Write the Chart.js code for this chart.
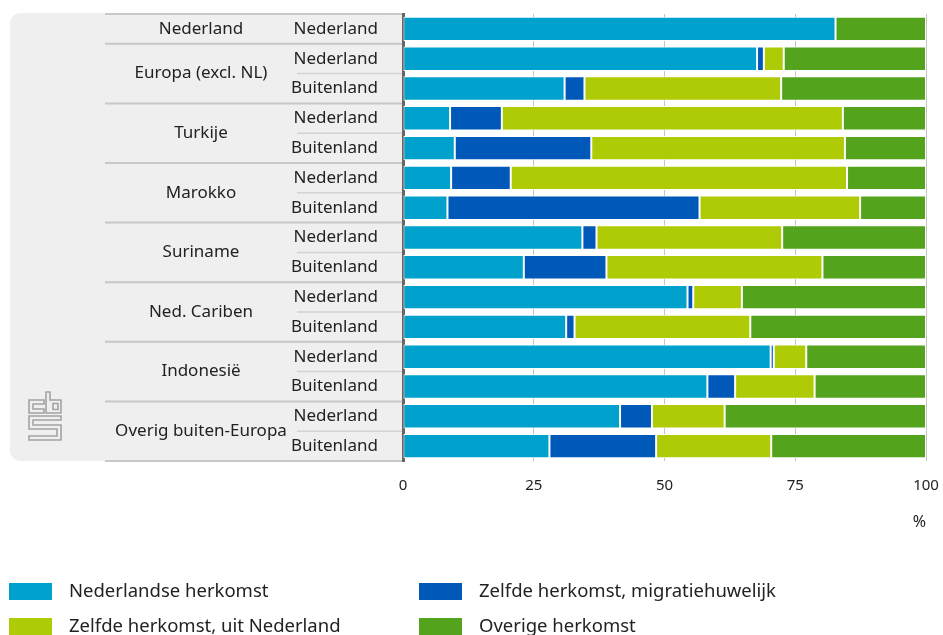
<!DOCTYPE html>
<html>
<head>
<meta charset="utf-8">
<script src="https://cdn.jsdelivr.net/npm/chart.js@4/dist/chart.umd.min.js"></script>
<style>
html,body{margin:0;padding:0;background:#fff;}
#wrap{position:relative;width:943px;height:635px;}
</style>
</head>
<body>
<div id="wrap"><canvas id="c"></canvas></div>
<script>
// ---- data ----
const categories = ['Nederland','Nederland','Buitenland','Nederland','Buitenland','Nederland','Buitenland','Nederland','Buitenland','Nederland','Buitenland','Nederland','Buitenland','Nederland','Buitenland'];
const groupNames = ['Nederland','Europa (excl. NL)','Turkije','Marokko','Suriname','Ned. Cariben','Indonesië','Overig buiten-Europa'];
const groupSizes = [1,2,2,2,2,2,2,2];
const seriesNames = ['Nederlandse herkomst','Zelfde herkomst, migratiehuwelijk','Zelfde herkomst, uit Nederland','Overige herkomst'];
const nederlandseHerkomst = [82.7,67.7,30.9,9.0,9.9,9.2,8.5,34.3,23.1,54.4,31.2,70.3,58.2,41.5,28.0];
const migratiehuwelijk   = [0,1.3,3.8,9.9,26.1,11.4,48.2,2.7,15.8,1.1,1.6,0.6,5.3,6.1,20.4];
const uitNederland       = [0,3.8,37.6,65.2,48.5,64.3,30.7,35.5,41.3,9.3,33.6,6.2,15.2,13.9,22.0];
const overigeHerkomst    = [17.3,27.2,27.7,15.9,15.5,15.1,12.6,27.5,19.8,35.2,33.6,22.9,21.3,38.5,29.6];
const xTicks = [0,25,50,75,100];
const xUnit = '%';

const colors = ['#00a1cd','#0058b8','#afcb05','#53a31d'];
const FONT = '"Noto Sans", "DejaVu Sans", sans-serif';
const TXT = '#222222';

const seriesValues = [nederlandseHerkomst, migratiehuwelijk, uitNederland, overigeHerkomst];

function zeroPad(scale) {
  scale.paddingLeft = 0; scale.paddingRight = 0; scale.paddingTop = 0; scale.paddingBottom = 0;
}

const panelPlugin = {
  id: 'panel',
  beforeDraw(chart) {
    const ctx = chart.ctx, ca = chart.chartArea, y = chart.scales.y;
    ctx.save();
    const x0 = 10, y0 = ca.top - 1, x1 = ca.left - 1, y1 = ca.bottom, r = 10;
    ctx.fillStyle = '#efefef';
    ctx.beginPath();
    ctx.moveTo(x1, y0);
    ctx.lineTo(x0 + r, y0);
    ctx.arcTo(x0, y0, x0, y0 + r, r);
    ctx.lineTo(x0, y1 - r);
    ctx.arcTo(x0, y1, x0 + r, y1, r);
    ctx.lineTo(x1, y1);
    ctx.closePath();
    ctx.fill();
    let idx = 0;
    const bound = i => {
      if (i <= 0) return ca.top;
      if (i >= categories.length) return ca.bottom;
      return (y.getPixelForValue(i - 1) + y.getPixelForValue(i)) / 2;
    };
    ctx.strokeStyle = '#c8c8c8';
    ctx.lineWidth = 2;
    ctx.beginPath();
    ctx.moveTo(105, bound(0)); ctx.lineTo(ca.left - 1, bound(0));
    groupSizes.forEach(s => {
      idx += s;
      const b = bound(idx);
      ctx.moveTo(105, b); ctx.lineTo(ca.left - 1, b);
    });
    ctx.stroke();
    ctx.strokeStyle = '#d2d2d2';
    ctx.lineWidth = 1.5;
    ctx.beginPath();
    idx = 0;
    groupSizes.forEach(s => {
      for (let k = 1; k < s; k++) {
        const b = bound(idx + k);
        ctx.moveTo(297, b); ctx.lineTo(ca.left - 1, b);
      }
      idx += s;
    });
    ctx.stroke();
    // cbs logo
    ctx.strokeStyle = '#a3a3a3';
    ctx.lineWidth = 1.6;
    ctx.beginPath();
    ctx.moveTo(44, 400); ctx.lineTo(29, 400); ctx.lineTo(29, 413); ctx.lineTo(44, 413); ctx.lineTo(44, 409);
    ctx.lineTo(33, 409); ctx.lineTo(33, 404); ctx.lineTo(44, 404); ctx.closePath();
    ctx.moveTo(46, 392); ctx.lineTo(50, 392); ctx.lineTo(50, 400); ctx.lineTo(61, 400); ctx.lineTo(61, 413); ctx.lineTo(46, 413); ctx.closePath();
    ctx.rect(53, 403.5, 5, 6);
    ctx.moveTo(29, 416); ctx.lineTo(61, 416); ctx.lineTo(61, 420); ctx.lineTo(33, 420); ctx.lineTo(33, 425); ctx.lineTo(61, 425);
    ctx.lineTo(61, 440); ctx.lineTo(29, 440); ctx.lineTo(29, 436); ctx.lineTo(57, 436); ctx.lineTo(57, 429); ctx.lineTo(29, 429); ctx.closePath();
    ctx.stroke();
    ctx.restore();
  },
  afterDraw(chart) {
    const ctx = chart.ctx, y = chart.scales.y;
    ctx.save();
    ctx.fillStyle = TXT;
    ctx.font = '17px ' + FONT;
    ctx.textAlign = 'center';
    ctx.textBaseline = 'middle';
    let idx = 0;
    groupNames.forEach((g, gi) => {
      const s = groupSizes[gi];
      const yc = (y.getPixelForValue(idx) + y.getPixelForValue(idx + s - 1)) / 2;
      ctx.fillText(g, 201, yc);
      idx += s;
    });
    ctx.font = '18.5px ' + FONT;
    ctx.textAlign = 'left';
    chart.data.datasets.forEach((ds, i) => {
      const col = i % 2, row = Math.floor(i / 2);
      const bx = col === 0 ? 9 : 419;
      const by = 583 + row * 35;
      ctx.fillStyle = ds.backgroundColor;
      ctx.fillRect(bx, by, 43, 17);
      ctx.fillStyle = TXT;
      ctx.fillText(ds.label, bx + 60, by + 9);
    });
    ctx.restore();
  }
};

new Chart(document.getElementById('c'), {
  type: 'bar',
  data: {
    labels: categories,
    datasets: seriesNames.map((n, i) => ({
      label: n,
      data: seriesValues[i],
      backgroundColor: colors[i],
      borderColor: '#ffffff',
      borderWidth: 1,
      borderSkipped: false,
      barPercentage: 0.82,
      categoryPercentage: 1.0
    }))
  },
  options: {
    indexAxis: 'y',
    responsive: true,
    maintainAspectRatio: false,
    animation: false,
    layout: { padding: { left: 0, right: 17, top: 14, bottom: 103 } },
    plugins: { legend: { display: false }, tooltip: { enabled: false } },
    scales: {
      x: {
        stacked: true,
        min: 0, max: 100,
        afterBuildTicks(scale) { scale.ticks = xTicks.map(v => ({ value: v })); },
        afterFit(scale) { scale.height = 71; zeroPad(scale); },
        grid: { color: '#c4c4c4', lineWidth: 1, drawTicks: false },
        border: { display: false },
        ticks: { color: TXT, font: { family: FONT, size: 15 }, padding: 16, maxRotation: 0 },
        title: { display: true, text: xUnit, align: 'end', color: TXT, font: { family: FONT, size: 16 }, padding: { top: 0, bottom: 0 } }
      },
      y: {
        stacked: true,
        afterFit(scale) { scale.width = 403; zeroPad(scale); },
        grid: { display: false, drawTicks: false },
        border: { display: true, color: '#666666', width: 3 },
        ticks: { color: TXT, font: { family: FONT, size: 17 }, padding: 25, autoSkip: false }
      }
    }
  },
  plugins: [panelPlugin]
});
</script>
</body>
</html>
